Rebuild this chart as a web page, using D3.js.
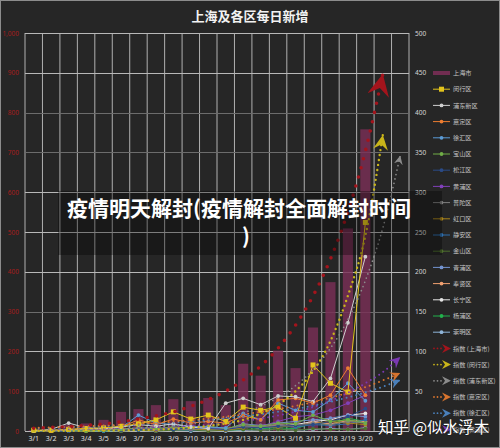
<!DOCTYPE html>
<html>
<head>
<meta charset="utf-8">
<script src="https://cdn.jsdelivr.net/npm/d3@7"></script>
<style>
  body { margin: 0; background: #262626; }
  svg { display: block; font-family: "Noto Sans CJK SC", "Noto Sans", sans-serif; }
</style>
</head>
<body>
<script>
// Categories
var dates = ["3/1","3/2","3/3","3/4","3/5","3/6","3/7","3/8","3/9","3/10",
             "3/11","3/12","3/13","3/14","3/15","3/16","3/17","3/18","3/19","3/20"];
var extraSlots = ["3/21","3/22"];
var leftTicks = [0,100,200,300,400,500,600,700,800,900,1000];
var rightTicks = [0,50,100,150,200,250,300,350,400,450,500];

// 上海市 (bars, left axis)
var shanghai = [2,3,16,19,28,48,55,65,80,75,83,65,169,139,202,158,260,374,509,758];

// districts (right axis)
var minhang  = [1,1,2,3,4,6,9,14,24,15,20,12,30,26,30,16,83,60,49,262];
var pudong   = [0,2,10,4,3,5,8,6,9,5,3,35,41,33,44,43,37,66,136,219];
var jiading  = [1,0,2,3,2,5,14,8,15,10,12,10,19,14,39,41,35,45,79,45];
var xuhui    = [0,1,1,2,3,4,20,10,8,6,5,4,22,14,35,26,24,39,60,38];
var baoshan  = [0,0,1,0,1,2,4,3,5,4,6,3,8,6,10,9,20,12,14,10];
var songjiang= [0,0,0,1,1,1,2,3,2,4,3,2,5,4,6,7,8,12,18,28];
var huangpu  = [0,0,1,1,2,1,3,2,4,3,5,2,8,6,12,18,20,26,35,45];
var putuo    = [0,1,0,1,1,2,3,2,3,2,4,3,6,5,8,7,10,8,12,10];
var hongkou  = [0,0,1,0,1,1,2,1,3,2,2,1,4,6,5,7,9,12,10,8];
var jingan   = [0,0,0,1,0,2,1,3,2,1,3,2,5,4,6,5,8,7,9,14];
var jinshan  = [0,0,0,0,1,0,1,0,1,1,0,1,2,1,2,1,3,2,2,3];
var qingpu   = [0,1,0,1,2,1,3,4,2,3,4,2,9,7,10,12,14,16,20,18];
var fengxian = [0,0,1,1,1,2,2,3,4,2,3,2,6,5,8,6,11,9,13,12];
var changning= [1,0,1,2,1,2,3,2,4,2,3,2,5,4,6,8,12,14,20,22];
var yangpu   = [0,0,0,1,0,1,3,1,2,1,2,1,2,3,4,3,10,8,16,12];
var chongming= [0,0,0,0,0,0,1,0,1,0,1,0,1,1,2,1,2,3,2,4];

// 指数 trend lines
var trendShanghai = [7,9,11,14,18,23,30,38,48,62,79,100,128,163,208,266,339,432,551,703,897];
var trendMinhang  = [0.1,0.2,0.2,0.4,0.5,0.8,1.2,1.8,2.8,4.2,6.3,9.5,14,22,33,50,75,113,170,245,372];
var trendPudong   = [0.6,0.9,1.1,1.5,2.1,2.8,3.8,5.1,6.9,9.4,12.7,17,23,31,42,57,77,104,140,189,255,346];
var trendJiading  = [3.9,4.5,5.1,5.9,6.8,7.8,9,10.3,11.9,13.6,15.7,18,20.7,23.9,27.4,31.6,36.3,41.7,48,55,63.5,73];
var trendXuhui    = [3.4,3.9,4.5,5.2,6,6.9,7.9,9.1,10.4,12,13.8,15.8,18.2,20.9,24.1,27.7,31.8,36.6,42.1,48.4,55.7,64];
var trendHuangpu  = [0.9,1.1,1.4,1.7,2.1,2.6,3.3,4.1,5.1,6.4,8,10,12.5,15.6,19.5,24,30,38,48,60,74,93];

var slots = dates.concat(extraSlots);

var districts = [
  { name: "闵行区",   values: minhang,   color: "#e3c41c", shape: "square" },
  { name: "浦东新区", values: pudong,    color: "#cfcfcf" },
  { name: "嘉定区",   values: jiading,   color: "#ed7d31" },
  { name: "徐汇区",   values: xuhui,     color: "#5b9bd5" },
  { name: "宝山区",   values: baoshan,   color: "#70ad47" },
  { name: "松江区",   values: songjiang, color: "#2a4a86" },
  { name: "黄浦区",   values: huangpu,   color: "#8040b8" },
  { name: "普陀区",   values: putuo,     color: "#7f7f7f" },
  { name: "虹口区",   values: hongkou,   color: "#a8841c" },
  { name: "静安区",   values: jingan,    color: "#2f6fae" },
  { name: "金山区",   values: jinshan,   color: "#4e6e2e" },
  { name: "青浦区",   values: qingpu,    color: "#7393cf" },
  { name: "奉贤区",   values: fengxian,  color: "#f0a070" },
  { name: "长宁区",   values: changning, color: "#e6e6e6" },
  { name: "杨浦区",   values: yangpu,    color: "#22b14c" },
  { name: "崇明区",   values: chongming, color: "#8fb4d8" }
];

var trends = [
  { name: "指数 (上海市)",   values: trendShanghai, color: "#a3141c", axis: "left",  width: 3.6, gap: 9.5, arrow: 22 },
  { name: "指数 (闵行区)",   values: trendMinhang,  color: "#c9b51a", axis: "right", width: 2.4, gap: 5,   arrow: 15 },
  { name: "指数 (浦东新区)", values: trendPudong,   color: "#8c8c8c", axis: "right", width: 1.7, gap: 4.5, arrow: 9 },
  { name: "指数 (嘉定区)",   values: trendJiading,  color: "#d8742e", axis: "right", width: 2,   gap: 5,   arrow: 10 },
  { name: "指数 (徐汇区)",   values: trendXuhui,    color: "#4a80bb", axis: "right", width: 2,   gap: 5,   arrow: 10 },
  { name: "指数 (黄浦区)",   values: trendHuangpu,  color: "#7b38b2", axis: "right", width: 2,   gap: 5,   arrow: 11 }
];

var width = 500, height = 448;
var plot = { left: 25, right: 409, top: 33, bottom: 431 };

var svg = d3.select("body").append("svg")
    .attr("width", width)
    .attr("height", height);

// background and frame
svg.append("rect")
    .attr("x", 0.5).attr("y", 0.5)
    .attr("width", width - 1).attr("height", height - 1)
    .attr("fill", "#262626")
    .attr("stroke", "#8c8c8c");

// Scales
var x = d3.scaleBand()
    .domain(slots)
    .range([plot.left, plot.right])
    .paddingInner(0.42)
    .paddingOuter(0.21);
var cx = function (d) { return x(d) + x.bandwidth() / 2; };

var yL = d3.scaleLinear().domain([0, 1000]).range([plot.bottom, plot.top]);
var yR = d3.scaleLinear().domain([0, 500]).range([plot.bottom, plot.top]);

// Title
svg.append("text")
    .attr("x", width / 2)
    .attr("y", 21)
    .attr("text-anchor", "middle")
    .attr("fill", "#f2f2f2")
    .style("font-size", "13px")
    .style("font-weight", "700")
    .text("上海及各区每日新增");

// Grid
var grid = svg.append("g");
var edge = x.step() * x.paddingOuter();
grid.selectAll(".vline")
    .data(slots.concat(["end"]))
    .enter().append("line")
    .attr("x1", function (d) { return d === "end" ? plot.right : x(d) - edge; })
    .attr("x2", function (d) { return d === "end" ? plot.right : x(d) - edge; })
    .attr("y1", plot.top)
    .attr("y2", plot.bottom)
    .attr("stroke", "#b0b0b0")
    .attr("stroke-width", 1);

grid.selectAll(".hline")
    .data(leftTicks)
    .enter().append("line")
    .attr("x1", plot.left)
    .attr("x2", plot.right)
    .attr("y1", function (d) { return Math.round(yL(d)) + 0.5; })
    .attr("y2", function (d) { return Math.round(yL(d)) + 0.5; })
    .attr("stroke", function (d) { return (d === 700 || d === 800 || d === 300) ? "#6c6c6c" : "#b8b8b8"; })
    .attr("stroke-width", 1);

// Left axis (上海市)
var leftAxis = svg.append("g")
    .attr("transform", "translate(" + plot.left + ",0)")
    .call(d3.axisLeft(yL).tickValues(leftTicks).tickSize(0).tickPadding(6));
leftAxis.select(".domain").remove();
leftAxis.selectAll("text")
    .attr("fill", "#a51d1d")
    .style("font-size", "6.5px")
    .style("font-family", "'Noto Sans', sans-serif");

// Right axis (districts)
var rightAxis = svg.append("g")
    .attr("transform", "translate(" + plot.right + ",0)")
    .call(d3.axisRight(yR).tickValues(rightTicks).tickSize(0).tickPadding(6));
rightAxis.select(".domain").remove();
rightAxis.selectAll("text")
    .attr("fill", "#d6d6d6")
    .style("font-size", "6.5px")
    .style("font-family", "'Noto Sans', sans-serif");

// X axis
var xAxis = svg.append("g")
    .attr("transform", "translate(0," + plot.bottom + ")")
    .call(d3.axisBottom(x).tickValues(dates).tickSize(0).tickPadding(5));
xAxis.select(".domain").remove();
xAxis.selectAll("text")
    .attr("fill", "#e0e0e0")
    .style("font-size", "7px")
    .style("font-family", "'Noto Sans', sans-serif");

// Bars: 上海市
svg.append("g").selectAll("rect")
    .data(shanghai)
    .enter().append("rect")
    .attr("x", function (d, i) { return x(dates[i]); })
    .attr("width", x.bandwidth())
    .attr("y", function (d) { return yL(d); })
    .attr("height", function (d) { return yL(0) - yL(d); })
    .attr("fill", "#7a2f57")
    .attr("opacity", 0.82);

// District lines
var districtLine = d3.line()
    .x(function (d, i) { return cx(dates[i]); })
    .y(function (d) { return yR(d); });

var lines = svg.append("g");
districts.slice().reverse().forEach(function (s) {
    var g = lines.append("g");
    g.append("path")
        .datum(s.values)
        .attr("d", districtLine)
        .attr("fill", "none")
        .attr("stroke", s.color)
        .attr("stroke-width", 1);
    if (s.shape === "square") {
        g.selectAll("rect").data(s.values).enter().append("rect")
            .attr("x", function (d, i) { return cx(dates[i]) - 2.5; })
            .attr("y", function (d) { return yR(d) - 2.5; })
            .attr("width", 5).attr("height", 5)
            .attr("fill", s.color);
    } else {
        g.selectAll("circle").data(s.values).enter().append("circle")
            .attr("cx", function (d, i) { return cx(dates[i]); })
            .attr("cy", function (d) { return yR(d); })
            .attr("r", 1.9)
            .attr("fill", s.color);
    }
});

// Arrow markers
var defs = svg.append("defs");
trends.forEach(function (t, k) {
    defs.append("marker")
        .attr("id", "arrow" + k)
        .attr("viewBox", "-10 -5 10 10")
        .attr("refX", 0).attr("refY", 0)
        .attr("markerUnits", "userSpaceOnUse")
        .attr("markerWidth", t.arrow)
        .attr("markerHeight", t.arrow)
        .attr("orient", "auto")
        .append("path")
        .attr("d", "M0,0L-10,-5L-6.5,0L-10,5Z")
        .attr("fill", t.color);
});

// Trend lines (dotted, with arrows)
trends.slice().reverse().forEach(function (t) {
    var k = trends.indexOf(t);
    var ys = t.axis === "left" ? yL : yR;
    var trendLine = d3.line()
        .x(function (d, i) { return cx(slots[i]); })
        .y(function (d) { return ys(d); })
        .curve(d3.curveMonotoneX);
    svg.append("path")
        .datum(t.values)
        .attr("d", trendLine)
        .attr("fill", "none")
        .attr("stroke", t.color)
        .attr("stroke-width", t.width)
        .attr("stroke-linecap", "round")
        .attr("stroke-dasharray", "0," + t.gap)
        .attr("marker-end", "url(#arrow" + k + ")");
});

// Legend
var legendItems = [{ name: "上海市", type: "bar", color: "#7a2f57" }]
    .concat(districts.map(function (s) { return { name: s.name, type: "line", color: s.color, shape: s.shape }; }))
    .concat(trends.map(function (t, k) { return { name: t.name, type: "trend", color: t.color, k: k }; }));

var legend = svg.selectAll(".legend")
    .data(legendItems)
    .enter().append("g")
    .attr("class", "legend")
    .attr("transform", function (d, i) { return "translate(433," + (73 + i * 16.2) + ")"; });

legend.each(function (d) {
    var g = d3.select(this);
    if (d.type === "bar") {
        g.append("rect").attr("x", 0).attr("y", -2).attr("width", 17).attr("height", 4)
            .attr("fill", d.color).attr("opacity", 0.9);
    } else if (d.type === "line") {
        g.append("line").attr("x1", 0).attr("x2", 17).attr("y1", 0).attr("y2", 0)
            .attr("stroke", d.color).attr("stroke-width", 1);
        if (d.shape === "square") {
            g.append("rect").attr("x", 6).attr("y", -2.5).attr("width", 5).attr("height", 5).attr("fill", d.color);
        } else {
            g.append("circle").attr("cx", 8.5).attr("cy", 0).attr("r", 1.9).attr("fill", d.color);
        }
    } else {
        g.append("line").attr("x1", 1).attr("x2", 9).attr("y1", 0).attr("y2", 0)
            .attr("stroke", d.color).attr("stroke-width", 1.8)
            .attr("stroke-linecap", "round").attr("stroke-dasharray", "0,3.5");
        g.append("path")
            .attr("d", "M18,0L9,-4.5L12,0L9,4.5Z")
            .attr("fill", d.color);
    }
    g.append("text")
        .attr("x", 20)
        .attr("y", 0)
        .attr("dy", "0.35em")
        .attr("fill", "#c4c4c4")
        .style("font-size", "6.2px")
        .text(d.name);
});

// Headline banner
svg.append("rect")
    .attr("x", 58).attr("y", 191)
    .attr("width", 384).attr("height", 64)
    .attr("fill", "rgba(0,0,0,0.32)");

svg.append("text")
    .attr("x", 67)
    .attr("y", 216)
    .attr("fill", "#ffffff")
    .style("font-size", "21px")
    .style("font-weight", "700")
    .text("疫情明天解封(疫情解封全面解封时间");

svg.append("text")
    .attr("x", 242)
    .attr("y", 244)
    .attr("fill", "#ffffff")
    .style("font-size", "21px")
    .style("font-weight", "700")
    .text(")");

// Watermark
svg.append("text")
    .attr("x", 378)
    .attr("y", 433)
    .attr("fill", "#ffffff")
    .attr("stroke", "rgba(0,0,0,0.25)")
    .attr("stroke-width", 1.5)
    .attr("paint-order", "stroke")
    .style("font-size", "15.5px")
    .text("知乎 @似水浮木");
</script>
</body>
</html>
